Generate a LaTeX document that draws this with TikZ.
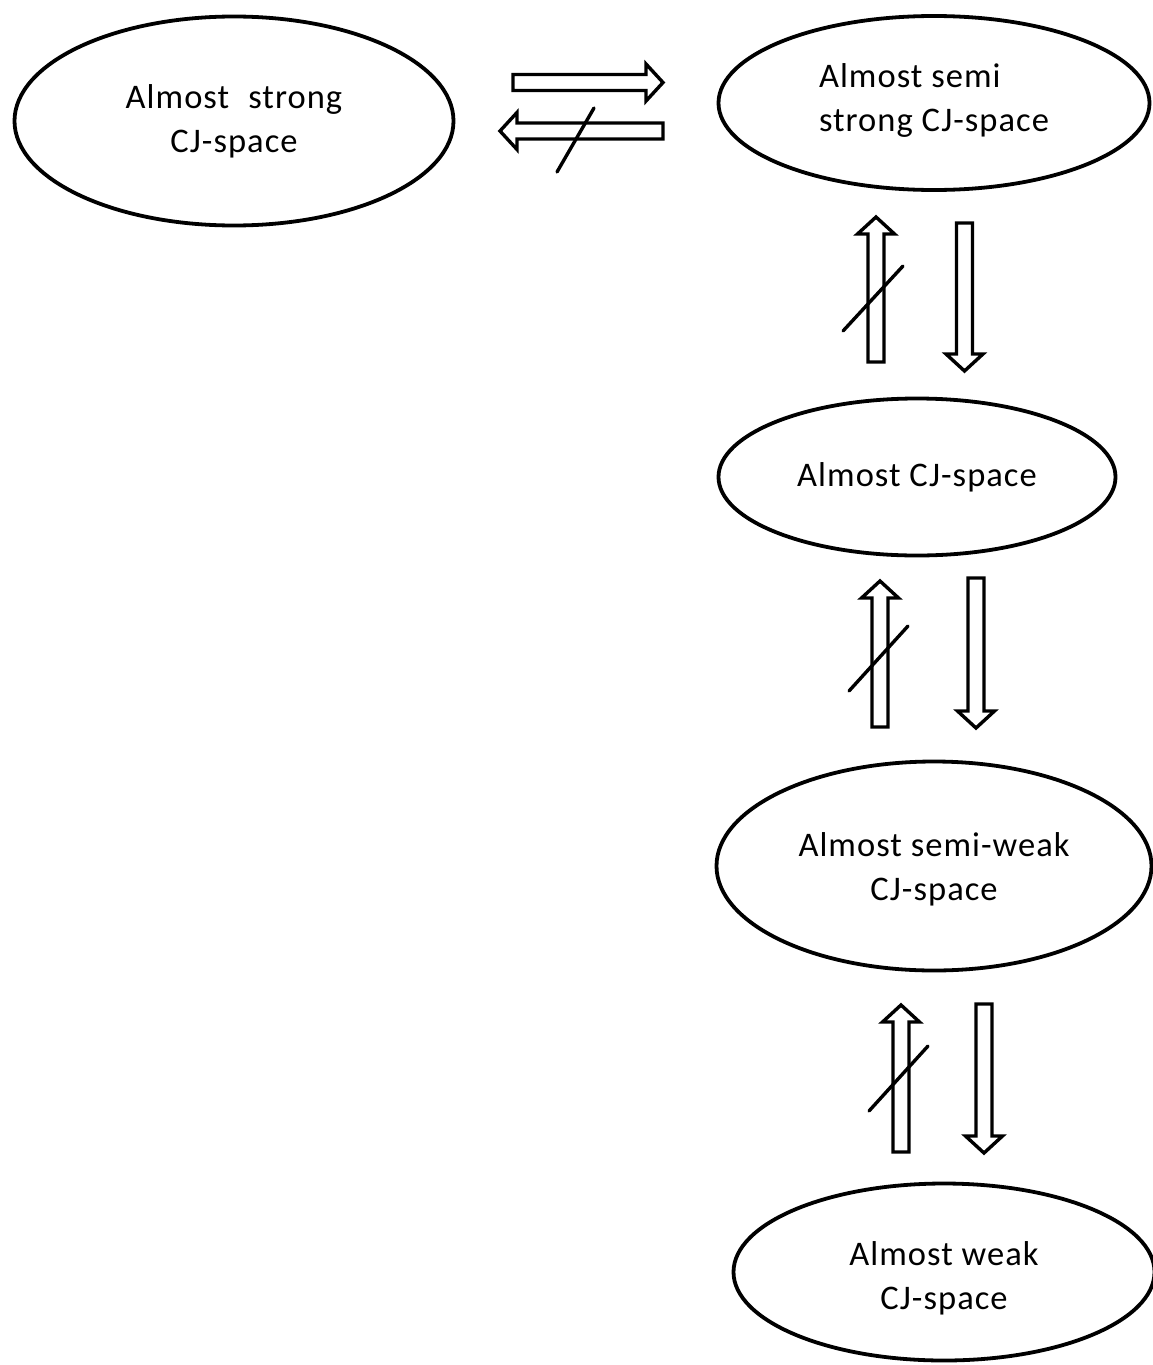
\documentclass[tikz,border=0pt]{standalone}
\usepackage{fontspec}
\setmainfont{Carlito}[LetterSpace=3]
\usetikzlibrary{shapes.geometric,calc}
\tikzset{
  oval/.style={ellipse, draw, line width=3.8pt, inner sep=0pt,
    font=\fontsize{34.5}{44}\selectfont, align=center},
  fatline/.style={draw, line width=3.4pt, line join=miter, fill=white},
  slash/.style={line width=3.4pt, line cap=round},
}
% text block moved vertically without changing its reported size
\newcommand\movetext[3]{\raisebox{#1}[\height][\depth]{\begin{tabular}{@{}#2@{}}#3\end{tabular}}}
% outlined "fat" arrows between named coordinates: #1 tail, #2 tip
\newcommand\fatR[2]{\draw[fatline] ($(#1)+(0,-8)$) -- ($(#2)+(-17,-8)$) -- ($(#2)+(-17,-18.5)$) -- (#2) -- ($(#2)+(-17,18.5)$) -- ($(#2)+(-17,8)$) -- ($(#1)+(0,8)$) -- cycle;}
\newcommand\fatL[2]{\draw[fatline] ($(#1)+(0,-8)$) -- ($(#2)+(17,-8)$) -- ($(#2)+(17,-18.5)$) -- (#2) -- ($(#2)+(17,18.5)$) -- ($(#2)+(17,8)$) -- ($(#1)+(0,8)$) -- cycle;}
\newcommand\fatU[2]{\draw[fatline] ($(#1)+(-8,0)$) -- ($(#2)+(-8,17)$) -- ($(#2)+(-18.5,17)$) -- (#2) -- ($(#2)+(18.5,17)$) -- ($(#2)+(8,17)$) -- ($(#1)+(8,0)$) -- cycle;}
\newcommand\fatD[2]{\draw[fatline] ($(#1)+(-8,0)$) -- ($(#2)+(-8,-17)$) -- ($(#2)+(-18.5,-17)$) -- (#2) -- ($(#2)+(18.5,-17)$) -- ($(#2)+(8,-17)$) -- ($(#1)+(8,0)$) -- cycle;}
\begin{document}
\begin{tikzpicture}[x=1pt, y=-1pt]
\useasboundingbox (0,0) rectangle (1153,1365);

% ovals
\node[oval, minimum width=439, minimum height=209] (strong) at (234,121)
  {Almost\hspace{0.3em} strong\\CJ-space};
\node[oval, minimum width=431, minimum height=174, align=left] (semistrong) at (934,103)
  {\movetext{2pt}{l}{Almost semi\\strong CJ-space}};
\node[oval, minimum width=397, minimum height=157] (almost) at (917,477)
  {\movetext{-1pt}{c}{Almost CJ-space}};
\node[oval, minimum width=435, minimum height=209] (semiweak) at (934,866)
  {\movetext{-4pt}{c}{Almost semi-weak\\CJ-space}};
\node[oval, minimum width=421, minimum height=177] (weak) at (944,1272)
  {\movetext{-7pt}{c}{Almost weak\\CJ-space}};

% arrow end points
\coordinate (h1a) at (513,82.5);  \coordinate (h1b) at (663,82.5);
\coordinate (h2a) at (663,131);   \coordinate (h2b) at (500,131);
\coordinate (s0a) at (557,172);   \coordinate (s0b) at (594,108);

\coordinate (u1a) at (876,362);   \coordinate (u1b) at (876,217);
\coordinate (d1a) at (964.5,223); \coordinate (d1b) at (964.5,371);
\coordinate (s1a) at (843,331);   \coordinate (s1b) at (903,266);

\coordinate (u2a) at (880,727);   \coordinate (u2b) at (880,581);
\coordinate (d2a) at (976,578);   \coordinate (d2b) at (976,728);
\coordinate (s2a) at (849,691);   \coordinate (s2b) at (908,626);

\coordinate (u3a) at (901,1152);  \coordinate (u3b) at (901,1005);
\coordinate (d3a) at (984,1004);  \coordinate (d3b) at (984,1153);
\coordinate (s3a) at (869,1111);  \coordinate (s3b) at (928,1046);

\fatR{h1a}{h1b}
\fatL{h2a}{h2b}
\draw[slash] (s0a) -- (s0b);

\fatU{u1a}{u1b}
\fatD{d1a}{d1b}
\draw[slash] (s1a) -- (s1b);

\fatU{u2a}{u2b}
\fatD{d2a}{d2b}
\draw[slash] (s2a) -- (s2b);

\fatU{u3a}{u3b}
\fatD{d3a}{d3b}
\draw[slash] (s3a) -- (s3b);
\end{tikzpicture}
\end{document}
